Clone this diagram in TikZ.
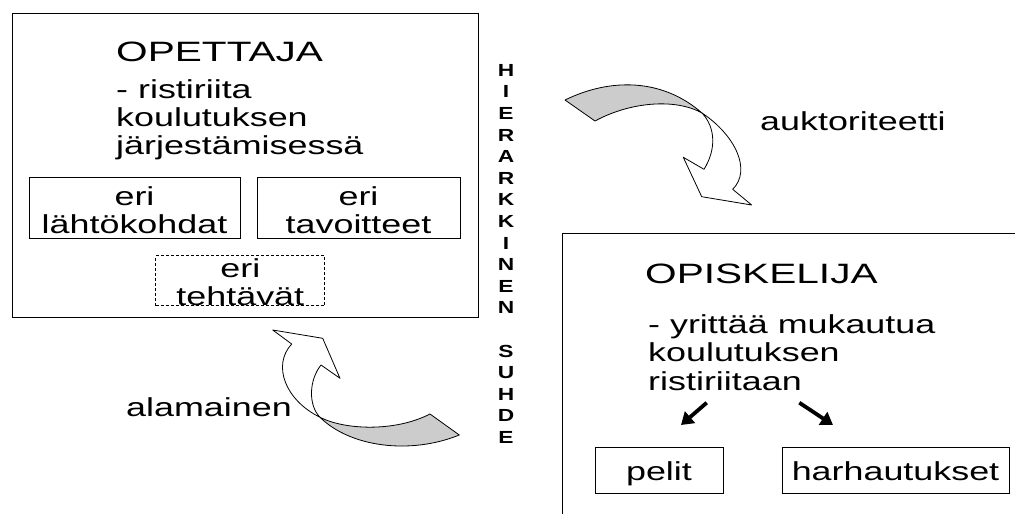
\documentclass[tikz,border=0pt]{standalone}
\usepackage{fontspec}
\setmainfont{Liberation Sans}
\newfontfamily\wf[FakeStretch=1.38]{Liberation Sans}
\newfontfamily\tf[FakeStretch=1.45]{Liberation Sans}
\newfontfamily\vf[FakeStretch=1.3]{Liberation Sans}
\usetikzlibrary{arrows.meta}
\begin{document}
\begin{tikzpicture}[x=1pt,y=-1pt,
  box/.style={draw, line width=0.9pt, inner sep=0pt},
  txt/.style={inner sep=0pt, font=\wf\fontsize{26}{28}\selectfont},
  bodytxt/.style={inner sep=0pt, align=left, anchor=north west},
  ttl/.style={inner sep=0pt, font=\tf\fontsize{28}{30}\selectfont, anchor=base west},
  vert/.style={inner sep=0pt, align=center, anchor=north, font=\vf\bfseries\fontsize{17.5}{21.6}\selectfont},
  thickarrow/.style={line width=3.8pt, -{Triangle[length=12pt,width=15pt]}},
  ribbon/.style={line width=0.8pt, line join=round},
  shade/.style={ribbon, fill=black!20},
  plain/.style={ribbon, fill=white}]
\useasboundingbox (0,0) rectangle (1015,514);
\clip (0,0) rectangle (1015,514);

% OPETTAJA block
\node[box, minimum width=466pt, minimum height=304pt] (ope) at (245,165) {};
\node[ttl] (opet) at (116,61.7) {OPETTAJA};
\node[txt, bodytxt] (opetxt) at (116,79.7) {- ristiriita\\koulutuksen\\järjestämisessä};
\node[box, minimum width=211pt, minimum height=61pt] (lk) at (134.5,207.5) {};
\node[txt, align=center, yshift=-2.5pt] (lkt) at (lk.center) {eri\\lähtökohdat};
\node[box, minimum width=203pt, minimum height=61pt] (tv) at (358.5,207.5) {};
\node[txt, align=center, yshift=-2.5pt] (tvt) at (tv.center) {eri\\tavoitteet};
\node[box, dash pattern=on 3pt off 2pt, minimum width=169pt, minimum height=50pt] (th) at (240.3,280.8) {};
\node[txt, align=center, yshift=-1pt] (tht) at (th.center) {eri\\tehtävät};

% OPISKELIJA block
\node[box, minimum width=480pt, minimum height=300pt, anchor=north west] (opi) at (562,233) {};
\node[ttl] (opis) at (645,283.3) {OPISKELIJA};
\node[txt, bodytxt, font=\wf\fontsize{26}{28.5}\selectfont] (opitxt) at (648,314.4) {- yrittää mukautua\\koulutuksen\\ristiriitaan};
\node[box, minimum width=128pt, minimum height=46pt] (pel) at (659,470) {};
\node[txt, anchor=base] (pelt) at (659,480) {pelit};
\node[box, minimum width=227pt, minimum height=46pt] (har) at (895.5,470) {};
\node[txt, anchor=base] (hart) at (895.5,480) {harhautukset};
\coordinate (a1s) at (706.7,402.7);
\coordinate (a1e) at (681,425);
\coordinate (a2s) at (799.3,402.7);
\coordinate (a2e) at (833,425);
\draw[thickarrow] (a1s) -- (a1e);
\draw[thickarrow] (a2s) -- (a2e);

% vertical text
\node[vert] (hier) at (506,64) {H\\I\\E\\R\\A\\R\\K\\K\\I\\N\\E\\N\\[21.6pt]S\\U\\H\\D\\E};

% labels
\node[txt, anchor=base west] (auk) at (760,130) {auktoriteetti};
\node[txt, anchor=base west] (ala) at (126,416.7) {alamainen};

% top curved arrow
\coordinate (tA) at (565,100);
\coordinate (tB) at (595,121);
\coordinate (tX) at (702,113);
\coordinate (tCr) at (732.7,189.3);
\coordinate (tR) at (751.7,205);
\coordinate (tT) at (701.7,196.7);
\coordinate (tL) at (683.3,157.3);
\coordinate (tCi) at (704,169.3);
\filldraw[shade] (tA) .. controls (610,78) and (662,78) .. (tX)
   .. controls (675,98) and (630,102) .. (tB) -- cycle;
\filldraw[plain] (tX) .. controls (735,135) and (752,170) .. (tCr)
   -- (tR) -- (tT) -- (tL) -- (tCi)
   .. controls (716,150) and (716,128) .. (tX) -- cycle;

% bottom curved arrow
\coordinate (bX) at (320,417.3);
\coordinate (bP1) at (430,414);
\coordinate (bP2) at (459.3,435);
\coordinate (bLc) at (291.7,344);
\coordinate (bLt) at (272.7,330);
\coordinate (bHt) at (322.7,338.3);
\coordinate (bRt) at (340,378.3);
\coordinate (bRc) at (321,365);
\filldraw[shade] (bP1) .. controls (395,432) and (345,430) .. (bX)
   .. controls (350,447) and (410,455) .. (bP2) -- cycle;
\filldraw[plain] (bX) .. controls (285,400) and (272,365) .. (bLc)
   -- (bLt) -- (bHt) -- (bRt) -- (bRc)
   .. controls (309,380) and (308,405) .. (bX) -- cycle;
\end{tikzpicture}
\end{document}
